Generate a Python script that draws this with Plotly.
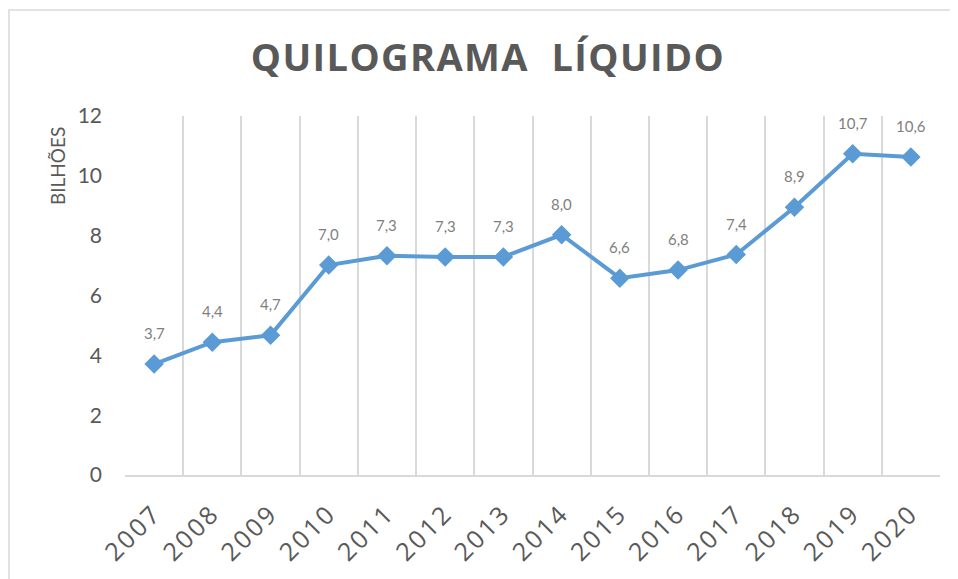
import plotly.graph_objects as go

years = ['2007', '2008', '2009', '2010', '2011', '2012', '2013',
         '2014', '2015', '2016', '2017', '2018', '2019', '2020']
kg_liquido = [3.71, 4.44, 4.67, 7.02, 7.33, 7.29, 7.29,
              8.03, 6.58, 6.85, 7.37, 8.95, 10.74, 10.63]

title_text = 'QUILOGRAMA  LÍQUIDO'
y_label = 'BILHÕES'

blue = '#5b9bd5'
grid = '#d9d9d9'
dark = '#595959'

# the page body adds an 8px margin, so the figure is 8px smaller
W, H = 950, 571
L, T, R, B = 117, 108, 18, 104
pw, ph = W - L - R, H - T - B

fig = go.Figure()
fig.add_trace(go.Scatter(
    x=years, y=kg_liquido,
    mode='lines+markers',
    line=dict(color=blue, width=4),
    marker=dict(symbol='diamond', size=15, color=blue),
    hoverinfo='skip',
    showlegend=False,
))

# data labels above the points (category index on x)
for i, v in enumerate(kg_liquido):
    fig.add_annotation(x=i, y=v, text='{:.1f}'.format(v).replace('.', ','),
                       showarrow=False, yshift=31,
                       font=dict(family='Lato', size=15, color='#7f7f7f'))

fig.add_annotation(xref='paper', yref='paper', x=0, y=(ph - 50) / ph,
                   xanchor='center', yanchor='middle', xshift=-68,
                   text=y_label, textangle=-90, showarrow=False,
                   font=dict(family='Lato', size=19, color=dark))

# outer chart frame
fig.add_shape(type='rect', xref='paper', yref='paper',
              x0=-(L - 1) / pw, y0=1 + (T - 2) / ph, x1=1.1, y1=-0.4,
              line=dict(color=grid, width=1.5), layer='below')

spaced = ['<span style="letter-spacing:2.5px">' + y + '</span>' for y in years]

fig.update_layout(
    width=W, height=H,
    margin=dict(l=L, r=R, t=T, b=B),
    paper_bgcolor='white', plot_bgcolor='white',
    title=dict(text='<b><span style="letter-spacing:1.4px">' + title_text + '</span></b>',
               x=480 / W, xanchor='center', y=1 - 50 / H, yanchor='middle',
               font=dict(family='Open Sans', size=38, color=dark)),
    xaxis=dict(type='category', categoryorder='array', categoryarray=years,
               range=[-0.5, len(years) - 0.5], automargin=False,
               tickvals=years, ticktext=spaced,
               tickson='boundaries', showgrid=True,
               gridcolor=grid, gridwidth=1.5, showline=True, linecolor=grid,
               linewidth=1.5, ticks='', tickangle=-45, ticklabelstandoff=12,
               tickfont=dict(family='Open Sans', size=25, color=dark),
               fixedrange=True),
    yaxis=dict(range=[0, 12], dtick=2, showgrid=False, zeroline=False,
               ticks='', ticklabelstandoff=22, automargin=False,
               tickfont=dict(family='Lato', size=21, color=dark),
               fixedrange=True),
)

fig.write_html("out.html")
